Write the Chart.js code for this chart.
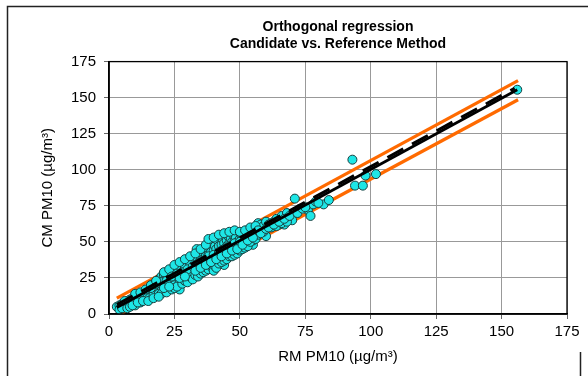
<!DOCTYPE html>
<html>
<head>
<meta charset="utf-8">
<script src="https://cdn.jsdelivr.net/npm/chart.js@4"></script>
<style>
  html, body { margin: 0; padding: 0; background: #fff; }
  #wrap { width: 588px; height: 376px; }
</style>
</head>
<body>
<div id="wrap"><canvas id="regChart" width="588" height="376"></canvas></div>
<script>
// scatter points: RM PM10 (x) vs CM PM10 (y)
var rmValues = [3, 4, 4.5, 5, 5, 5.5, 6, 6, 6.5, 7, 7, 7.5, 8, 8, 8.5, 9, 9, 9.5, 10, 10,
  10.5, 11, 11, 11.5, 12, 12, 12.5, 13, 13, 13.5, 14, 14, 14.5, 15, 15, 15.5, 16, 16, 16.5, 17,
  17, 17.5, 18, 18, 18.5, 19, 19, 19.5, 20, 20, 20, 20.5, 21, 21, 21.5, 22, 22, 22.5, 23, 23,
  23.5, 24, 24, 24.5, 25, 25, 25.5, 26, 26, 26.5, 27, 27, 27.5, 28, 28, 28.5, 29, 29, 29.5, 30,
  30, 30.5, 31, 31, 31.5, 32, 32, 32.5, 33, 33, 33.5, 34, 34, 34.5, 35, 35, 35.5, 36, 36, 36.5,
  37, 37, 37.5, 38, 38, 38.5, 39, 39, 39.5, 40, 40, 40.5, 41, 41, 41.5, 42, 42, 42.5, 43, 43,
  43.5, 44, 44, 44.5, 45, 45, 45.5, 46, 46, 46.5, 47, 47, 47.5, 48, 48, 48.5, 49, 49, 50, 50,
  50.5, 51, 51, 52, 52, 53, 53, 54, 55, 55, 55, 56, 57, 57, 58, 58, 59, 60, 60, 61,
  62, 63, 64, 65, 66, 67, 68, 70, 71, 73, 76, 77, 78, 82, 84, 93, 94, 97, 98, 102,
  156, 10, 12, 14, 15, 17, 19, 21, 23, 25, 27, 8, 11, 13, 16, 18, 22, 24, 26, 29, 31,
  20, 22, 24, 25, 26, 28, 29, 30, 31, 32, 33, 34, 35, 36, 37, 38, 39, 40, 40, 41,
  42, 43, 44, 45, 46, 47, 48, 49, 50, 51, 52, 53, 54, 56, 57, 59, 62, 64, 66, 68,
  21, 23, 25, 27, 29, 31, 33, 35, 37, 38, 40, 42, 44, 46, 48, 50, 52, 54, 56,
  20, 22, 24, 26, 28, 30, 32, 34, 36, 38, 40, 42, 44, 46, 48, 50, 21, 23, 27, 29,
  33, 35, 37, 39, 41, 43, 45, 47, 49, 51, 53, 55, 57, 58, 60, 61, 63, 65, 67, 69,
  72, 74, 75, 79, 80, 4, 5, 6, 7, 8, 9, 10, 11, 12, 13, 14, 15, 16, 17, 18, 19];
var cmValues = [5, 6, 4.5, 7, 5, 6, 8, 5, 7, 6, 9, 8, 7, 10, 9, 8, 11, 10, 9, 12,
  11, 10, 13, 14, 11, 13, 12, 15, 12, 14, 13, 16, 15, 14, 17, 18, 15, 12, 19, 16,
  20, 17, 19, 15, 22, 18, 24, 20, 21, 16, 26, 23, 20, 27, 24, 22, 18, 28, 25, 21,
  27, 24, 30, 26, 23, 29, 32, 27, 22, 30, 17, 33, 28, 31, 25, 36, 30, 27, 34, 32,
  28, 37, 33, 24, 35, 30, 39, 34, 36, 31, 45, 38, 33, 29, 40, 36, 42, 38, 34, 44,
  40, 35, 46, 41, 37, 48, 43, 39, 50, 44, 36, 47, 45, 41, 51, 47, 38, 53, 48, 44,
  52, 34, 49, 45, 51, 47, 54, 49, 43, 52, 50, 46, 55, 51, 44, 53, 50, 47, 52, 48,
  55, 53, 46, 54, 50, 56, 49, 55, 56, 48, 51, 58, 57, 63, 60, 62, 61, 64, 54, 62,
  63, 64, 66, 62, 68, 62, 70, 65, 80, 73, 72, 68, 76, 76, 79, 107, 89, 89, 96, 97,
  155.5, 6, 8, 10, 11, 13, 14, 16, 18, 20, 22, 9, 12, 15, 18, 21, 26, 28, 31, 33, 35,
  14, 15, 17, 18, 19, 21, 23, 22, 26, 24, 27, 26, 28, 29, 30, 31, 33, 30, 34, 32,
  35, 36, 37, 38, 40, 40, 41, 42, 44, 45, 46, 47, 50, 52, 55, 57, 60, 61, 63, 64,
  29, 31, 34, 36, 38, 40, 42, 45, 48, 52, 53, 55, 56, 57, 58, 57, 58, 60, 61,
  22, 23, 26, 28, 29, 31, 33, 35, 37, 40, 41, 43, 45, 47, 49, 50, 18, 19, 25, 26,
  30, 32, 34, 36, 38, 40, 42, 44, 45, 48, 51, 53, 58, 56, 59, 60, 62, 64, 66, 68,
  70, 73, 74, 78, 77, 3, 4, 9, 4, 5, 6, 14, 8, 15, 9, 17, 9, 20, 11, 23, 12];

// fitted lines, given by their two end points
var fitX = [3, 156];
var fitY = [4.5, 155.5];
var refLineX = [3, 155];
var refLineY = [6.5, 156.5];
var upperX = [3, 156.3];
var upperY = [11, 161.8];
var lowerX = [4.8, 156.3];
var lowerY = [0.5, 148.6];

var axisTicks = [0, 25, 50, 75, 100, 125, 150, 175];

function toPoints(xs, ys) {
  return xs.map(function (x, i) { return { x: x, y: ys[i] }; });
}

var framePlugin = {
  id: 'frame',
  beforeDraw: function (chart) {
    var ctx = chart.ctx;
    ctx.save();
    ctx.fillStyle = '#fff';
    ctx.fillRect(0, 0, chart.width, chart.height);
    ctx.strokeStyle = '#222';
    ctx.lineWidth = 1.5;
    ctx.beginPath();
    ctx.moveTo(7.5, chart.height);
    ctx.lineTo(7.5, 6.5);
    ctx.lineTo(chart.width, 6.5);
    ctx.moveTo(580.5, 352);
    ctx.lineTo(580.5, chart.height);
    ctx.stroke();
    ctx.restore();
  },
  afterDraw: function (chart) {
    var a = chart.chartArea;
    var ctx = chart.ctx;
    ctx.save();
    ctx.strokeStyle = '#000';
    ctx.lineWidth = 1.3;
    ctx.strokeRect(a.left, a.top, a.right - a.left, a.bottom - a.top);
    ctx.restore();
  }
};

var lineStyle = function (label, pts, color, width, dash, order) {
  return {
    type: 'line',
    label: label,
    data: pts,
    borderColor: color,
    borderWidth: width,
    borderDash: dash,
    pointRadius: 0,
    fill: false,
    order: order
  };
};

var ctx = document.getElementById('regChart').getContext('2d');
new Chart(ctx, {
  type: 'scatter',
  data: {
    datasets: [
      lineStyle('Upper', toPoints(upperX, upperY), '#ff6a00', 3.3, [], 3),
      lineStyle('Lower', toPoints(lowerX, lowerY), '#ff6a00', 3.3, [], 3),
      {
        label: 'Data',
        data: toPoints(rmValues, cmValues),
        backgroundColor: '#1ee6e6',
        borderColor: '#17403f',
        borderWidth: 1,
        pointRadius: 4.5,
        order: 2
      },
      lineStyle('Regression', toPoints(fitX, fitY), '#000', 2.8, [], 1),
      lineStyle('Reference', toPoints(refLineX, refLineY), '#000', 3, [18, 10], 0)
    ]
  },
  options: {
    responsive: false,
    animation: false,
    layout: { padding: { left: 0, right: 21, top: 0, bottom: 0 } },
    plugins: {
      legend: { display: false },
      tooltip: { enabled: false },
      title: {
        display: true,
        fullSize: false,
        text: ['Orthogonal regression', 'Candidate vs. Reference Method'],
        color: '#000',
        font: { family: 'Liberation Sans, Arial, sans-serif', size: 14, weight: 'bold', lineHeight: 1.2 },
        padding: { top: 19, bottom: 9 }
      }
    },
    scales: {
      x: {
        type: 'linear',
        min: 0,
        max: 175,
        afterBuildTicks: function (scale) {
          scale.ticks = axisTicks.map(function (v) { return { value: v }; });
        },
        afterFit: function (scale) { scale.height = 62; },
        ticks: {
          color: '#000',
          padding: 4,
          font: { family: 'Liberation Sans, Arial, sans-serif', size: 15 }
        },
        grid: {
          color: '#999',
          borderDash: [1, 1],
          tickLength: 5,
          tickColor: '#666',
          tickBorderDash: []
        },
        border: { display: true, color: '#000', width: 1.5 },
        title: {
          display: true,
          text: 'RM PM10 (µg/m³)',
          color: '#000',
          font: { family: 'Liberation Sans, Arial, sans-serif', size: 15 },
          padding: { top: 0, bottom: 10 }
        }
      },
      y: {
        type: 'linear',
        min: 0,
        max: 175,
        afterBuildTicks: function (scale) {
          scale.ticks = axisTicks.map(function (v) { return { value: v }; });
        },
        afterFit: function (scale) { scale.width = 109; },
        ticks: {
          color: '#000',
          padding: 8,
          font: { family: 'Liberation Sans, Arial, sans-serif', size: 15 }
        },
        grid: {
          color: '#999',
          borderDash: [1, 1],
          tickLength: 5,
          tickColor: '#666',
          tickBorderDash: []
        },
        border: { display: true, color: '#000', width: 1.5 },
        title: {
          display: true,
          text: 'CM PM10 (µg/m³)',
          color: '#000',
          font: { family: 'Liberation Sans, Arial, sans-serif', size: 15 },
          padding: { top: 39, bottom: 0 }
        }
      }
    }
  },
  plugins: [framePlugin]
});
</script>
</body>
</html>
